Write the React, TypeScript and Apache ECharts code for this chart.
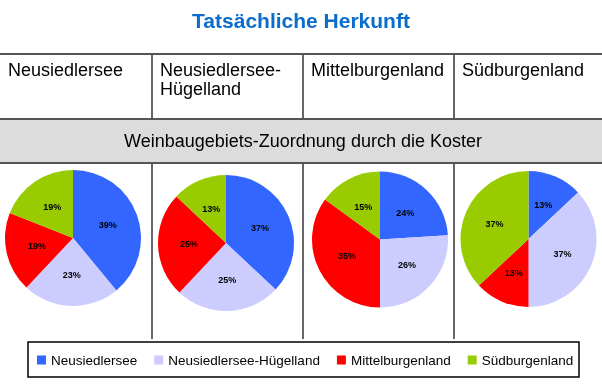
import React, { useEffect, useRef } from "react";
import * as echarts from "echarts";

const regions = ["Neusiedlersee", "Neusiedlersee-Hügelland", "Mittelburgenland", "Südburgenland"];
const columnHeaders = [["Neusiedlersee"], ["Neusiedlersee-", "Hügelland"], ["Mittelburgenland"], ["Südburgenland"]];
const pieNeusiedlersee = [39, 23, 19, 19];
const pieHuegelland = [37, 25, 25, 13];
const pieMittelburgenland = [24, 26, 35, 15];
const pieSuedburgenland = [13, 37, 13, 37];
const colors = ["#3366FF", "#CCCCFF", "#FF0000", "#99CC00"];
const titleText = "Tatsächliche Herkunft";
const bandText = "Weinbaugebiets-Zuordnung durch die Koster";

const FONT = "'Liberation Sans', Arial, sans-serif";

export default function App() {
  const ref = useRef<HTMLDivElement>(null);
  useEffect(() => {
    if (!ref.current) return;
    const chart = echarts.init(ref.current, null, { renderer: "svg" });
    const pies = [pieNeusiedlersee, pieHuegelland, pieMittelburgenland, pieSuedburgenland];
    const centers = [
      [73, 238],
      [226, 243],
      [380, 239.5],
      [528.5, 239],
    ];
    const colX = [0, 152, 303, 454];
    const graphics: any[] = [];
    graphics.push({
      type: "text",
      x: 301,
      y: 20,
      style: { text: titleText, font: `bold 21px ${FONT}`, fill: "#0A6CCB", align: "center", verticalAlign: "middle" },
    });
    for (let i = 1; i < 4; i++) {
      graphics.push({
        type: "line",
        shape: { x1: colX[i], y1: 54, x2: colX[i], y2: 339 },
        style: { stroke: "#333", lineWidth: 1.5 },
      });
    }
    graphics.push({
      type: "line",
      shape: { x1: 0, y1: 54, x2: 602, y2: 54 },
      style: { stroke: "#555", lineWidth: 2 },
    });
    columnHeaders.forEach((lines, i) => {
      lines.forEach((t, j) => {
        graphics.push({
          type: "text",
          x: colX[i] + 8,
          y: 70 + j * 19,
          style: { text: t, font: `18px ${FONT}`, fill: "#000", align: "left", verticalAlign: "middle" },
        });
      });
    });
    graphics.push({
      type: "rect",
      shape: { x: 0, y: 119, width: 602, height: 44 },
      style: { fill: "#DCDCDC" },
    });
    graphics.push({
      type: "line",
      shape: { x1: 0, y1: 119, x2: 602, y2: 119 },
      style: { stroke: "#555", lineWidth: 2 },
    });
    graphics.push({
      type: "line",
      shape: { x1: 0, y1: 163, x2: 602, y2: 163 },
      style: { stroke: "#555", lineWidth: 2 },
    });
    graphics.push({
      type: "text",
      x: 303,
      y: 141,
      style: { text: bandText, font: `18px ${FONT}`, fill: "#000", align: "center", verticalAlign: "middle" },
    });
    graphics.push({
      type: "rect",
      shape: { x: 28, y: 342, width: 551, height: 35 },
      style: { fill: "none", stroke: "#000", lineWidth: 1.5 },
    });

    const series = pies.map((vals, i) => ({
      type: "pie",
      center: centers[i],
      radius: 68,
      startAngle: 90,
      clockwise: true,
      silent: true,
      avoidLabelOverlap: false,
      label: {
        show: true,
        position: "inside",
        formatter: "{c}%",
        fontFamily: FONT,
        fontWeight: "bold",
        fontSize: 9,
        color: "#000",
      },
      labelLine: { show: false },
      itemStyle: { borderWidth: 0 },
      emphasis: { disabled: true },
      data: regions.map((name, k) => ({ name, value: vals[k] })),
    }));

    chart.setOption({
      animation: false,
      color: colors,
      legend: {
        data: regions,
        left: 37,
        top: 353,
        width: 560,
        orient: "horizontal",
        padding: 0,
        itemWidth: 9,
        itemHeight: 9,
        itemGap: 17,
        icon: "rect",
        selectedMode: false,
        textStyle: { fontFamily: FONT, fontSize: 13.5, color: "#000", lineHeight: 14 },
      },
      graphic: graphics,
      series,
    });
    return () => chart.dispose();
  }, []);
  return <div ref={ref} style={{ position: "fixed", left: 0, top: 0, width: 602, height: 386 }} />;
}
